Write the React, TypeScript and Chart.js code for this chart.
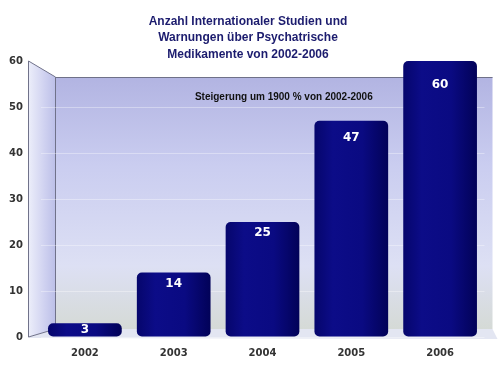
import React, { useEffect, useRef } from 'react';
import { Chart, registerables } from 'chart.js';

Chart.register(...registerables);

const years = ['2002', '2003', '2004', '2005', '2006'];
const counts = [3, 14, 25, 47, 60];
const yMin = 0;
const yMax = 60;
const yStep = 10;
const titleLines = [
  'Anzahl Internationaler Studien und',
  'Warnungen über Psychatrische',
  'Medikamente von 2002-2006',
];
const noteText = 'Steigerung um 1900 % von 2002-2006';

const BAR_PCT = 0.83;

const wallsPlugin = {
  id: 'walls',
  beforeDraw(chart: any) {
    const { ctx, chartArea: ca, scales } = chart;
    const y = scales.y;
    const L = ca.left - 12;
    const B = y.getPixelForValue(yMin);
    const T = y.getPixelForValue(yMax);
    const bx = ca.left + 15;
    const bTop = T + 16;
    const bBot = B - 8;
    const R = ca.right + 8;
    ctx.save();
    // floor
    ctx.beginPath();
    ctx.moveTo(L, B);
    ctx.lineTo(bx, bBot);
    ctx.lineTo(R, bBot);
    ctx.lineTo(R + 5, B + 2);
    ctx.lineTo(L, B + 1);
    ctx.closePath();
    ctx.fillStyle = '#e3e6f2';
    ctx.fill();
    // back wall
    const g = ctx.createLinearGradient(0, bTop, 0, bBot);
    g.addColorStop(0, '#b2b4e2');
    g.addColorStop(0.35, '#cacdf0');
    g.addColorStop(0.75, '#dde0f4');
    g.addColorStop(1, '#d5dad6');
    ctx.fillStyle = g;
    ctx.fillRect(bx, bTop, R - bx, bBot - bTop);
    ctx.strokeStyle = '#6f7188';
    ctx.lineWidth = 1;
    ctx.beginPath();
    ctx.moveTo(bx, bTop + 0.5);
    ctx.lineTo(R, bTop + 0.5);
    ctx.stroke();
    // left wall
    const lg = ctx.createLinearGradient(L, 0, bx, 0);
    lg.addColorStop(0, '#eceefa');
    lg.addColorStop(0.6, '#cfd1f0');
    lg.addColorStop(1, '#bcbfe8');
    ctx.beginPath();
    ctx.moveTo(L, T);
    ctx.lineTo(bx, bTop);
    ctx.lineTo(bx, bBot);
    ctx.lineTo(L, B);
    ctx.closePath();
    ctx.fillStyle = lg;
    ctx.fill();
    ctx.strokeStyle = '#70728a';
    ctx.stroke();
    ctx.restore();
  },
  afterDraw(chart: any) {
    const { ctx, chartArea: ca, scales, width } = chart;
    const y = scales.y;
    ctx.save();
    ctx.textAlign = 'center';
    ctx.textBaseline = 'middle';
    // title
    ctx.font = 'bold 12px "Liberation Sans", Arial, sans-serif';
    ctx.fillStyle = '#1c1c6e';
    titleLines.forEach((t, i) => {
      ctx.fillText(t, width / 2 - 2, 21.5 + i * 16.5);
    });
    // note
    ctx.font = 'bold 10px "Liberation Sans", Arial, sans-serif';
    ctx.fillStyle = '#111';
    ctx.fillText(noteText, ca.left + (ca.right - ca.left) * 0.548, y.getPixelForValue(52.2));
    ctx.restore();
  },
};

const labelsPlugin = {
  id: 'barLabels',
  afterDatasetsDraw(chart: any) {
    const { ctx } = chart;
    const meta = chart.getDatasetMeta(0);
    ctx.save();
    ctx.font = 'bold 12px "DejaVu Sans", Verdana, sans-serif';
    ctx.fillStyle = '#ffffff';
    ctx.textAlign = 'center';
    ctx.textBaseline = 'middle';
    meta.data.forEach((el: any, i: number) => {
      const h = el.base - el.y;
      const off = Math.max(11, 11 + (h - 150) * 0.1);
      const ty = h < 30 ? (el.y + el.base) / 2 : el.y + off;
      ctx.fillText(String(counts[i]), el.x, ty);
    });
    ctx.restore();
  },
};

export default function App() {
  const ref = useRef<HTMLCanvasElement>(null);
  useEffect(() => {
    document.body.style.margin = '0';
    const canvas = ref.current!;
    const chart = new Chart(canvas, {
      type: 'bar',
      data: {
        labels: years,
        datasets: [
          {
            data: counts,
            backgroundColor: (c: any) => {
              const ch = c.chart;
              const xs = ch.scales?.x;
              if (!xs || !ch.chartArea) return '#0a0a82';
              const cx = xs.getPixelForValue(c.dataIndex);
              const w = ((ch.chartArea.right - ch.chartArea.left) / years.length) * BAR_PCT;
              const g = ch.ctx.createLinearGradient(cx - w / 2, 0, cx + w / 2, 0);
              g.addColorStop(0, '#06066c');
              g.addColorStop(0.25, '#0c0c88');
              g.addColorStop(0.65, '#0a0a82');
              g.addColorStop(1, '#020258');
              return g;
            },
            borderRadius: 5,
            borderSkipped: false,
            barPercentage: BAR_PCT,
            categoryPercentage: 1,
          },
        ],
      },
      options: {
        responsive: false,
        animation: false,
        layout: { padding: { left: 0, right: 15.5, top: 61, bottom: 0 } },
        plugins: {
          legend: { display: false },
          tooltip: { enabled: false },
          title: { display: false },
        },
        scales: {
          x: {
            grid: { display: false, drawTicks: false },
            border: { display: false },
            ticks: {
              color: '#333',
              padding: 10,
              font: { family: '"DejaVu Sans", Verdana, sans-serif', size: 10, weight: 'bold' },
            },
            afterFit(s: any) {
              s.height = 32;
            },
          },
          y: {
            min: yMin,
            max: yMax,
            ticks: {
              stepSize: yStep,
              color: '#333',
              padding: 17.5,
              font: { family: '"DejaVu Sans", Verdana, sans-serif', size: 10, weight: 'bold' },
            },
            grid: { color: 'rgba(255,255,255,0.35)', drawTicks: false },
            border: { display: false },
            afterFit(s: any) {
              s.width = 40.5;
            },
          },
        },
      },
      plugins: [wallsPlugin, labelsPlugin],
    });
    return () => chart.destroy();
  }, []);
  return (
    <div style={{ width: 500, height: 369, background: '#fff' }}>
      <canvas ref={ref} width={500} height={369} />
    </div>
  );
}
